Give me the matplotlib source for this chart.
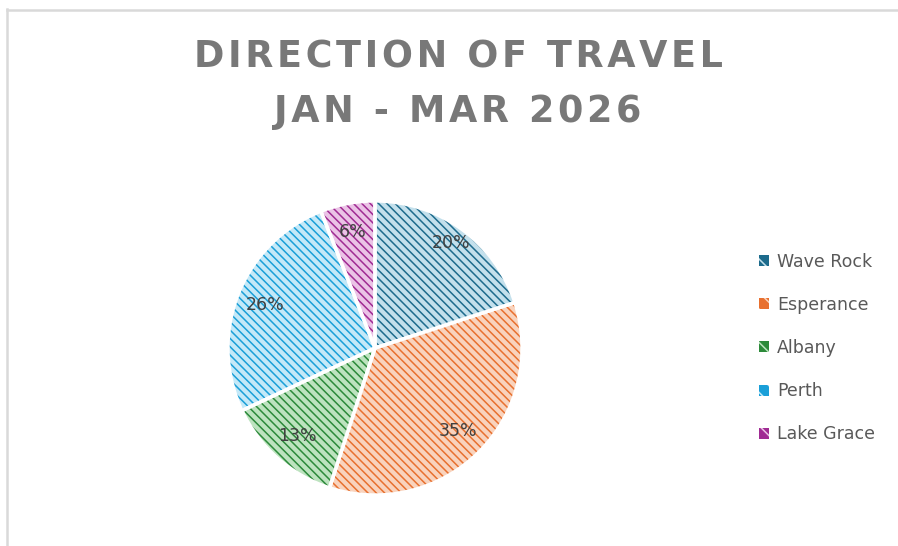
import matplotlib.pyplot as plt
from matplotlib.lines import Line2D
from matplotlib.patches import Patch

# data
places = ['Wave Rock', 'Esperance', 'Albany', 'Perth', 'Lake Grace']
shares = [20, 35, 13, 26, 6]
fills = ['#c3e0ec', '#f9d3bd', '#bde3bf', '#c4e9f8', '#ebc3e6']
inks = ['#1d6b8c', '#e8702f', '#2c8a3a', '#1a9fd8', '#a02b93']

plt.rcParams['hatch.linewidth'] = 1.1

fig = plt.figure(figsize=(8.98, 5.46), dpi=100)
ax = fig.add_axes([225/898, 48/546, 300/898, 300/546])

# patterned wedges, hatch takes the edge colour
wedges, _, pcts = ax.pie(shares, startangle=90, counterclock=False,
                         autopct='%1.0f%%', pctdistance=0.8,
                         wedgeprops=dict(linewidth=0),
                         textprops=dict(color='#404040', fontsize=12.5))
for w, f, c in zip(wedges, fills, inks):
    w.set_facecolor(f)
    w.set_edgecolor(c)
    w.set_hatch('\\' * 4)

# white borders on top
borders, _ = ax.pie(shares, startangle=90, counterclock=False,
                    wedgeprops=dict(fill=False, edgecolor='white', linewidth=2.5))

# 20% label sits a bit further out
x, y = pcts[0].get_position()
pcts[0].set_position((x * 1.1, y * 1.1))

ax.set_xlim(-1.02, 1.02)
ax.set_ylim(-1.02, 1.02)
ax.set_aspect('equal')

handles = [Patch(facecolor=c, edgecolor=f, hatch='\\\\', linewidth=0) for f, c in zip(fills, inks)]
fig.legend(handles, places, loc='center left', bbox_to_anchor=(743/898, 1 - 348/546),
           frameon=False, fontsize=12.5, labelcolor='#595959',
           handlelength=0.6, handleheight=0.6, handletextpad=0.45, labelspacing=1.45)

title_1 = '\u200a'.join('DIRECTION OF TRAVEL')
title_2 = '\u200a'.join('JAN - MAR 2026')
fig.text(458/898, 1 - 57/546, title_1, ha='center', va='center',
         fontsize=26.3, fontweight='bold', color='#787878')
fig.text(458/898, 1 - 112/546, title_2, ha='center', va='center',
         fontsize=26.3, fontweight='bold', color='#787878')

# chart frame
fig.add_artist(Line2D([6.5/898, 6.5/898], [0, 1 - 9/546], transform=fig.transFigure,
                      color='#d9d9d9', lw=1.8))
fig.add_artist(Line2D([6.5/898, 1], [1 - 9.5/546, 1 - 9.5/546], transform=fig.transFigure,
                      color='#d9d9d9', lw=1.8))

fig.savefig('out.png', dpi=100)
